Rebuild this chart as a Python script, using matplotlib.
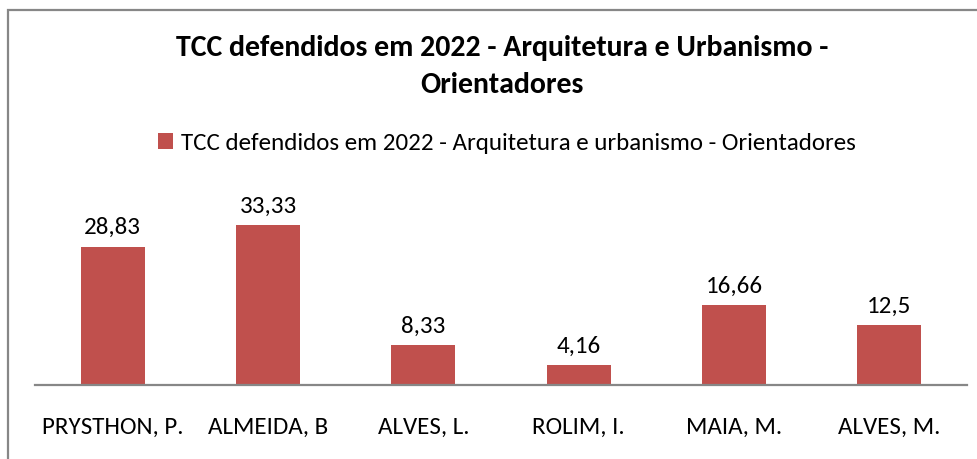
import matplotlib
matplotlib.use('Agg')
import matplotlib.pyplot as plt
from matplotlib.patches import Rectangle

orientadores = ['PRYSTHON, P.', 'ALMEIDA, B', 'ALVES, L.', 'ROLIM, I.', 'MAIA, M.', 'ALVES, M.']
percentuais = [28.83, 33.33, 8.33, 4.16, 16.66, 12.5]
rotulos = ['28,83', '33,33', '8,33', '4,16', '16,66', '12,5']

plt.rcParams['font.family'] = ['Carlito', 'Liberation Sans', 'DejaVu Sans']

cor = '#C0504D'
cinza = '#878787'
fig = plt.figure(figsize=(9.78, 4.59), dpi=100)
fig.patches.append(Rectangle((8 / 978, -0.05), 1.1, (459 - 10) / 459 + 0.05,
                             transform=fig.transFigure, fill=False,
                             edgecolor=cinza, linewidth=1.6))

ax = fig.add_axes([35 / 978, 74 / 459, 932 / 978, 168 / 459])
x = range(len(orientadores))
barras = ax.bar(x, percentuais, width=0.41, color=cor,
                label='TCC defendidos em 2022 - Arquitetura e urbanismo - Orientadores')
for b, r in zip(barras, rotulos):
    ax.annotate(r, (b.get_x() + b.get_width() / 2, b.get_height()), xytext=(0, 6),
                textcoords='offset points', ha='center', va='bottom', fontsize=18)

ax.set_xlim(-0.5, len(orientadores) - 0.5)
ax.set_ylim(0, 35)
ax.set_xticks(list(x))
ax.set_xticklabels(orientadores, fontsize=18)
ax.tick_params(axis='x', length=0, pad=23)
ax.set_yticks([])
for s in ['top', 'right', 'left']:
    ax.spines[s].set_visible(False)
ax.spines['bottom'].set_color(cinza)
ax.spines['bottom'].set_linewidth(1.6)

fig.text(502 / 978, 1 - 48 / 459, 'TCC defendidos em 2022 - Arquitetura e Urbanismo -',
         ha='center', va='center', fontsize=21.5, fontweight='bold')
fig.text(502 / 978, 1 - 85 / 459, 'Orientadores',
         ha='center', va='center', fontsize=21.5, fontweight='bold')
fig.legend(loc='center', bbox_to_anchor=(507 / 978, 1 - 143 / 459), frameon=False,
           fontsize=18, handlelength=0.6, handleheight=0.6, handletextpad=0.3)

fig.savefig('out.png', dpi=100)
